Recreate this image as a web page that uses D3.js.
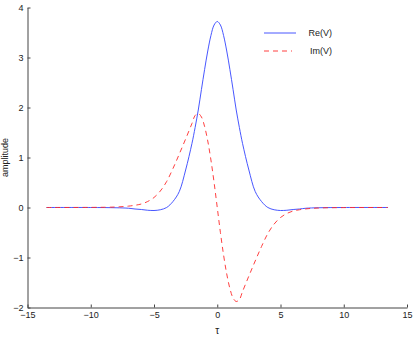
<!DOCTYPE html>
<html>
<head>
<meta charset="utf-8">
<title>Re / Im of V</title>
<script src="https://d3js.org/d3.v7.min.js"></script>
<style>
  body { margin: 0; background: #fff; }
  text { font-family: "Liberation Sans", Arial, sans-serif; }
</style>
</head>
<body>
<div id="chart"></div>
<script>
// values (tau, amplitude)
const tau = [-13.5, -10, -8, -7, -6.5, -6, -5.5, -5, -4.5, -4, -3.5, -3, -2.5, -2, -1.75, -1.5, -1.25, -1, -0.75, -0.5, -0.25, 0,
             0.25, 0.5, 0.75, 1, 1.25, 1.5, 1.75, 2, 2.5, 3, 3.5, 4, 4.5, 5, 5.5, 6, 6.5, 7, 8, 10, 13.5];
const reV = [0, 0, -0.005, -0.015, -0.03, -0.04, -0.055, -0.06, -0.045, 0.0, 0.12, 0.32, 0.75, 1.28, 1.6, 1.95, 2.36, 2.76, 3.13, 3.44, 3.65, 3.72,
             3.65, 3.44, 3.13, 2.76, 2.36, 1.95, 1.6, 1.28, 0.75, 0.32, 0.12, 0.0, -0.045, -0.06, -0.055, -0.04, -0.03, -0.015, -0.005, 0, 0];
const imV = [0, 0.002, 0.01, 0.028, 0.045, 0.07, 0.12, 0.2, 0.33, 0.52, 0.78, 1.07, 1.37, 1.68, 1.84, 1.88, 1.81, 1.62, 1.33, 0.95, 0.5, 0,
             -0.5, -0.95, -1.33, -1.62, -1.81, -1.88, -1.84, -1.68, -1.37, -1.07, -0.78, -0.52, -0.33, -0.2, -0.12, -0.07, -0.045, -0.028, -0.01, -0.002, 0];
const xTicks = [-15, -10, -5, 0, 5, 10, 15];
const yTicks = [-2, -1, 0, 1, 2, 3, 4];
const legendNames = ["Re(V)", "Im(V)"];

let margin = {top: 7.5, right: 8, bottom: 30.5, left: 27.5};
let W = 415, H = 338;
let w = W - margin.left - margin.right;
let h = H - margin.top - margin.bottom;

let svg = d3.select("#chart").append("svg")
    .attr("width", W).attr("height", H);
let g = svg.append("g")
    .attr("transform", "translate(" + margin.left + "," + margin.top + ")");

let x = d3.scaleLinear().domain([-15, 15]).range([0, w]);
let y = d3.scaleLinear().domain([-2, 4]).range([h, 0]);

let fmt = d3.format("d");
let xAxis = d3.axisBottom(x).tickValues(xTicks).tickFormat(fmt).tickSizeInner(-3).tickSizeOuter(0).tickPadding(4);
let yAxis = d3.axisLeft(y).tickValues(yTicks).tickFormat(fmt).tickSizeInner(-3).tickSizeOuter(0).tickPadding(4);

let gx = g.append("g").attr("transform", "translate(0," + h + ")").call(xAxis);
let gy = g.append("g").call(yAxis);
[gx, gy].forEach(a => {
  a.selectAll("path, line").attr("stroke", "#444");
  a.selectAll("text").attr("font-size", "9px").attr("fill", "#222")
    .style("font-family", "'Liberation Sans', Arial, sans-serif");
});

// lines
let pts = (vals) => tau.map((t, i) => [t, vals[i]]);
let line = d3.line().x(d => x(d[0])).y(d => y(d[1])).curve(d3.curveCatmullRom.alpha(0.5));

g.append("path").datum(pts(reV))
  .attr("fill", "none").attr("stroke", "#3344ff").attr("stroke-width", 0.9)
  .attr("d", line);
g.append("path").datum(pts(imV))
  .attr("fill", "none").attr("stroke", "#ff2a2a").attr("stroke-width", 0.9)
  .attr("stroke-dasharray", "5,4")
  .attr("d", line);

// legend
let leg = svg.append("g");
let legStyles = [{c: "#3344ff", dash: null, x2: 296}, {c: "#ff2a2a", dash: "5,4", x2: 292}];
legendNames.forEach((name, i) => {
  let yy = 33 + i * 18;
  leg.append("line").attr("x1", 264).attr("x2", legStyles[i].x2).attr("y1", yy).attr("y2", yy)
    .attr("stroke", legStyles[i].c).attr("stroke-width", 0.9)
    .attr("stroke-dasharray", legStyles[i].dash);
  leg.append("text").attr("x", 332).attr("y", yy).attr("dy", "0.35em")
    .attr("text-anchor", "end").attr("font-size", "9px").attr("fill", "#222").text(name);
});

// axis titles
svg.append("text")
  .attr("transform", "translate(" + (margin.left + x(0)) + "," + (H - 4) + ")")
  .attr("text-anchor", "middle").attr("font-size", "10px").attr("fill", "#222")
  .text("τ");
svg.append("text")
  .attr("transform", "translate(8," + (margin.top + h / 2) + ") rotate(-90)")
  .attr("text-anchor", "middle").attr("font-size", "9px").attr("fill", "#222")
  .text("amplitude");
</script>
</body>
</html>
